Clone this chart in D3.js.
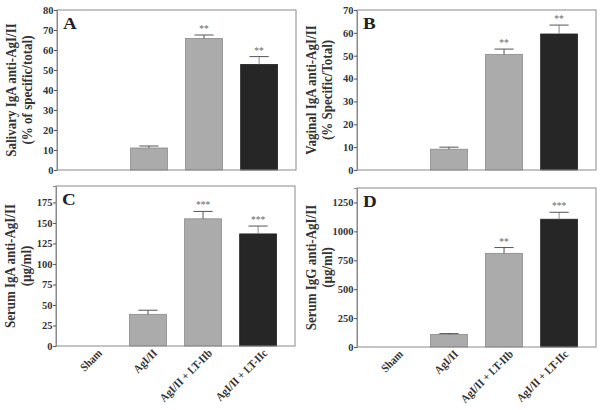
<!DOCTYPE html>
<html><head><meta charset="utf-8">
<script src="https://d3js.org/d3.v7.min.js"></script>
<style>body{margin:0;background:#fff}svg{display:block}</style>
</head><body><svg id="c" width="603" height="410"></svg>
<script>
const categories = ["Sham", "AgI/II", "AgI/II + LT-IIb", "AgI/II + LT-IIc"];
const barColors = ["#ababab", "#ababab", "#ababab", "#262626"];

const salivaryIgA = [0, 11, 65.8, 52.8];
const salivaryErr = [0, 1, 1.7, 3.9];
const salivaryStars = ["", "", "**", "**"];

const vaginalIgA = [0, 9.1, 50.5, 59.5];
const vaginalErr = [0, 0.9, 2.4, 3.9];
const vaginalStars = ["", "", "**", "**"];

const serumIgA = [0, 38.6, 155, 136.6];
const serumIgAErr = [0, 5, 9, 9.6];
const serumIgAStars = ["", "", "***", "***"];

const serumIgG = [0, 108, 810, 1105];
const serumIgGErr = [0, 8, 50, 60];
const serumIgGStars = ["", "", "**", "***"];

const ticksA = [0, 10, 20, 30, 40, 50, 60, 70, 80];
const ticksB = [0, 10, 20, 30, 40, 50, 60, 70];
const ticksC = [0, 25, 50, 75, 100, 125, 150, 175];
const ticksD = [0, 250, 500, 750, 1000, 1250];

const panels = [
  {letter:"A", x:57, y:10, w:239, h:160, max:80, ticks:ticksA, vals:salivaryIgA, err:salivaryErr, stars:salivaryStars,
   title:["Salivary IgA anti-AgI/II","(% of specific/total)"], xlabels:false},
  {letter:"B", x:357, y:10, w:239, h:160, max:70, ticks:ticksB, vals:vaginalIgA, err:vaginalErr, stars:vaginalStars,
   title:["Vaginal IgA anti-AgI/II","(% Specific/Total)"], xlabels:false},
  {letter:"C", x:56, y:186, w:239, h:160, max:195, ticks:ticksC, vals:serumIgA, err:serumIgAErr, stars:serumIgAStars,
   title:["Serum IgA anti-AgI/II","(µg/ml)"], xlabels:true},
  {letter:"D", x:357, y:188, w:239, h:159, max:1375, ticks:ticksD, vals:serumIgG, err:serumIgGErr, stars:serumIgGStars,
   title:["Serum IgG anti-AgI/II","(µg/ml)"], xlabels:true}
];

const svg = d3.select("#c");
const font = "'Liberation Serif','Times New Roman',serif";

panels.forEach(p => {
  const g = svg.append("g").attr("transform", `translate(${p.x},${p.y})`);
  const x = d3.scaleBand().domain(categories).range([0, p.w]).paddingInner(0.33).paddingOuter(0.335);
  const y = d3.scaleLinear().domain([0, p.max]).range([p.h, 0]);

  // bars
  g.selectAll("rect.bar").data(p.vals).join("rect").attr("class","bar")
    .attr("x", (d,i) => x(categories[i]))
    .attr("width", x.bandwidth())
    .attr("y", d => y(d))
    .attr("height", d => p.h - y(d))
    .attr("fill", (d,i) => barColors[i])
    .attr("stroke", (d,i) => i === 3 ? "#222" : "#8a8a8a")
    .attr("stroke-width", 0.8);

  // error bars (upper only)
  p.vals.forEach((v,i) => {
    if (!p.err[i]) return;
    const cx = x(categories[i]) + x.bandwidth()/2;
    const cw = x.bandwidth()*0.26;
    g.append("line").attr("x1",cx).attr("x2",cx).attr("y1",y(v)).attr("y2",y(v+p.err[i]))
      .attr("stroke", i===3 ? "#888" : "#555").attr("stroke-width",1);
    g.append("line").attr("x1",cx-cw).attr("x2",cx+cw).attr("y1",y(v+p.err[i])).attr("y2",y(v+p.err[i]))
      .attr("stroke","#555").attr("stroke-width",1);
    if (p.stars[i]) {
      g.append("text").attr("x",cx).attr("y",y(v+p.err[i])-3)
        .attr("text-anchor","middle").attr("font-family",font).attr("font-size",9.5)
        .attr("fill","#666").text(p.stars[i]);
    }
  });

  // frame
  g.append("rect").attr("x",0).attr("y",0).attr("width",p.w).attr("height",p.h)
    .attr("fill","none").attr("stroke","#8a8a8a").attr("stroke-width",1);

  // y axis
  const ya = g.append("g").call(d3.axisLeft(y).tickValues(p.ticks).tickSize(3).tickFormat(d3.format("d")));
  ya.select(".domain").attr("stroke","#8a8a8a");
  ya.selectAll(".tick line").attr("stroke","#555");
  ya.selectAll("text").attr("font-family",font).attr("font-size",10.5).attr("font-weight","bold")
    .attr("fill","#333").attr("x",-3.5);

  // x labels
  if (p.xlabels) {
    const xa = g.append("g").attr("transform",`translate(0,${p.h})`)
      .call(d3.axisBottom(x).tickSize(0));
    xa.select(".domain").remove();
    xa.selectAll("text").attr("font-family",font).attr("font-size",10.5).attr("font-weight","bold")
      .attr("fill","#333").attr("text-anchor","end").attr("y",0).attr("dy","0.35em")
      .attr("transform","translate(7,5) rotate(-45) scale(1,1.1)");
  }

  // panel letter
  g.append("text").attr("transform","translate(6,19) scale(1.12,1)").attr("font-family",font).attr("font-size",17)
    .attr("font-weight","bold").attr("fill","#222").text(p.letter);

  // y title
  const t = g.append("text").attr("transform",`translate(${-34},${p.h/2}) rotate(-90) scale(1,1.12)`)
    .attr("text-anchor","middle").attr("font-family",font).attr("font-size",13)
    .attr("font-weight","bold").attr("fill","#333");
  t.append("tspan").attr("x",0).attr("dy","-0.5em").text(p.title[0]);
  t.append("tspan").attr("x",0).attr("dy","1.15em").text(p.title[1]);
});
</script>
</body></html>
